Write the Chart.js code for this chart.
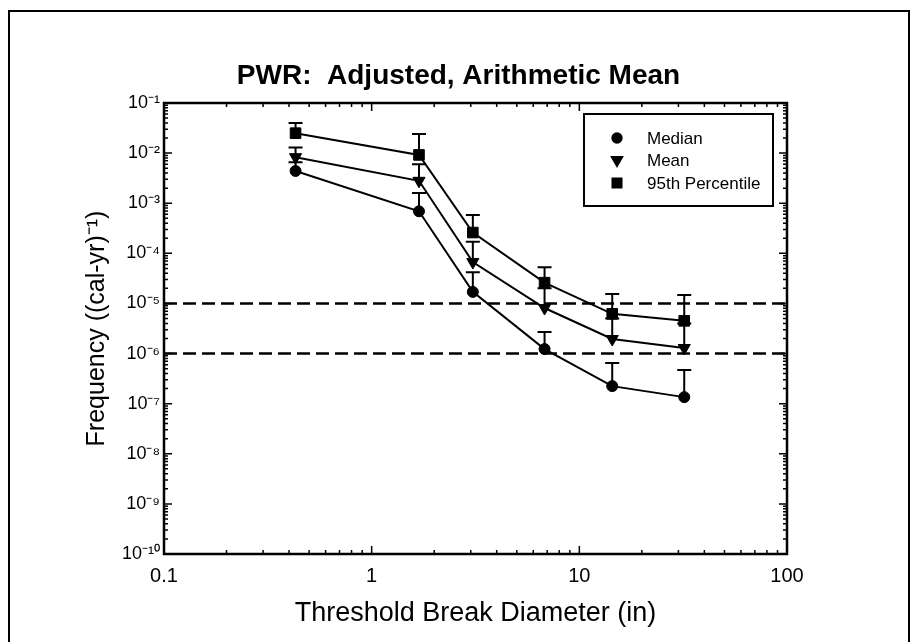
<!DOCTYPE html>
<html>
<head>
<meta charset="utf-8">
<script src="https://cdn.jsdelivr.net/npm/chart.js@4.4.1/dist/chart.umd.min.js"></script>
<style>
  body { margin: 0; background: #fff; }
  #wrap { position: relative; width: 917px; height: 642px; }
  #frame { position: absolute; left: 8px; top: 10px; width: 898px; height: 700px; border: 2px solid #000; }
  canvas { position: absolute; left: 0; top: 0; }
</style>
</head>
<body>
<div id="wrap">
  <div id="frame"></div>
  <canvas id="myChart" width="917" height="642"></canvas>
</div>
<script>
// Datos
const diametros = [0.43, 1.69, 3.07, 6.8, 14.4, 32];

const mediana = [4.4e-3, 6.9e-4, 1.7e-5, 1.23e-6, 2.24e-7, 1.35e-7];
const medianaSup = [6.6e-3, 1.6e-3, 4.2e-5, 2.7e-6, 6.5e-7, 4.7e-7];

const media = [8.3e-3, 2.8e-3, 6.7e-5, 8.1e-6, 1.95e-6, 1.29e-6];
const mediaSup = [1.3e-2, 6e-3, 1.7e-4, 2e-5, 5e-6, 4e-6];

const percentil95 = [2.5e-2, 9.2e-3, 2.6e-4, 2.6e-5, 6.2e-6, 4.5e-6];
const percentil95Sup = [4e-2, 2.4e-2, 5.8e-4, 5.3e-5, 1.55e-5, 1.47e-5];

const lineasLimite = [1e-5, 1e-6];
const xMin = 0.1, xMax = 100;
const yMin = 1e-10, yMax = 1e-1;

const titulo = 'PWR:  Adjusted, Arithmetic Mean';
const tituloX = 'Threshold Break Diameter (in)';
const tituloY = 'Frequency ((cal-yr)\u207B\u00B9)';

function puntos(vals) {
  return vals.map((v, i) => ({ x: diametros[i], y: v }));
}

const sup = { '-': '\u207B', '0': '\u2070', '1': '\u00B9', '2': '\u00B2', '3': '\u00B3',
  '4': '\u2074', '5': '\u2075', '6': '\u2076', '7': '\u2077', '8': '\u2078', '9': '\u2079' };

function esPotencia(v) {
  const l = Math.log10(v);
  return Math.abs(l - Math.round(l)) < 1e-9;
}

const series = [
  { label: 'Median', data: mediana, hi: medianaSup, style: 'circle', radius: 5.5, rot: 0 },
  { label: 'Mean', data: media, hi: mediaSup, style: 'triangle', radius: 7, rot: 180 },
  { label: '95th Percentile', data: percentil95, hi: percentil95Sup, style: 'rect', radius: 7.5, rot: 0 }
];

let datasets = [];
lineasLimite.forEach(v => {
  datasets.push({
    label: 'limite',
    data: [{ x: xMin, y: v }, { x: xMax, y: v }],
    borderColor: '#000',
    borderWidth: 2.5,
    borderDash: [13, 6],
    pointRadius: 0,
    order: 5
  });
});
series.forEach(s => {
  datasets.push({
    label: s.label,
    data: puntos(s.data),
    hi: s.hi,
    borderColor: '#000',
    backgroundColor: '#000',
    borderWidth: 2,
    pointStyle: s.style,
    pointRadius: s.radius,
    pointRotation: s.rot,
    pointBorderWidth: 1,
    order: 1
  });
});

// Barras de error (solo hacia arriba)
const errorBars = {
  id: 'errorBars',
  beforeDatasetsDraw(chart) {
    const c = chart.ctx, xs = chart.scales.x, ys = chart.scales.y;
    c.save();
    c.strokeStyle = '#000';
    c.lineWidth = 2;
    chart.data.datasets.forEach(ds => {
      if (!ds.hi) return;
      ds.data.forEach((p, i) => {
        const px = xs.getPixelForValue(p.x);
        const y0 = ys.getPixelForValue(p.y);
        const y1 = ys.getPixelForValue(ds.hi[i]);
        c.beginPath();
        c.moveTo(px, y0);
        c.lineTo(px, y1);
        c.moveTo(px - 7, y1);
        c.lineTo(px + 7, y1);
        c.stroke();
      });
    });
    c.restore();
  }
};

// Caja, marcas interiores, textos y leyenda
const marco = {
  id: 'marco',
  afterDraw(chart) {
    const c = chart.ctx, a = chart.chartArea;
    const xs = chart.scales.x, ys = chart.scales.y;
    c.save();
    c.strokeStyle = '#000';
    c.lineWidth = 1.5;
    c.beginPath();
    for (let d = -1; d < 2; d++) {
      for (let m = 1; m <= 9; m++) {
        const v = m * Math.pow(10, d);
        const px = xs.getPixelForValue(v);
        const len = m === 1 ? 8 : 4;
        c.moveTo(px, a.bottom); c.lineTo(px, a.bottom - len);
        c.moveTo(px, a.top); c.lineTo(px, a.top + len);
      }
    }
    for (let d = -10; d < -1; d++) {
      for (let m = 1; m <= 9; m++) {
        const v = m * Math.pow(10, d);
        const py = ys.getPixelForValue(v);
        const len = m === 1 ? 8 : 4;
        c.moveTo(a.left, py); c.lineTo(a.left + len, py);
        c.moveTo(a.right, py); c.lineTo(a.right - len, py);
      }
    }
    c.stroke();
    c.lineWidth = 2.5;
    c.strokeRect(a.left, a.top, a.right - a.left, a.bottom - a.top);

    const cx = (a.left + a.right) / 2;
    c.fillStyle = '#000';
    c.textAlign = 'center';
    c.textBaseline = 'alphabetic';
    c.font = 'bold 28px "Liberation Sans", Arial, sans-serif';
    c.fillText(titulo, chart.width / 2, 84);
    c.textBaseline = 'middle';
    c.font = '27px "Liberation Sans", Arial, sans-serif';
    c.fillText(tituloX, cx, 614);
    c.save();
    c.translate(97, (a.top + a.bottom) / 2);
    c.rotate(-Math.PI / 2);
    c.font = '25px "Liberation Sans", Arial, sans-serif';
    c.fillText(tituloY, 0, 0);
    c.restore();

    // leyenda
    c.lineWidth = 2;
    c.strokeRect(584, 114, 189, 92);
    c.textAlign = 'left';
    c.font = '17px "Liberation Sans", Arial, sans-serif';
    const filas = [138, 160, 183];
    series.forEach((s, i) => {
      Chart.helpers.drawPoint(c, { pointStyle: s.style, radius: s.radius * 0.85, rotation: s.rot, borderWidth: 1 }, 617, filas[i]);
      c.fill();
      c.fillText(s.label, 647, filas[i] + 1);
    });
    c.restore();
  }
};

const ctx = document.getElementById('myChart');

let graphData = {
  type: 'line',
  data: { datasets: datasets },
  options: {
    responsive: false,
    animation: false,
    layout: { padding: { top: 103, right: 130, left: 0, bottom: 0 } },
    plugins: { legend: { display: false }, tooltip: { enabled: false }, title: { display: false } },
    scales: {
      x: {
        type: 'logarithmic',
        min: xMin,
        max: xMax,
        grid: { display: false, drawTicks: false },
        border: { display: false },
        ticks: {
          autoSkip: false,
          maxRotation: 0,
          padding: 10,
          color: '#000',
          font: { size: 20, family: '"Liberation Sans", Arial, sans-serif' },
          callback: v => esPotencia(v) ? String(v) : ''
        },
        afterFit: s => { s.height = 88; }
      },
      y: {
        type: 'logarithmic',
        min: yMin,
        max: yMax,
        grid: { display: false, drawTicks: false },
        border: { display: false },
        ticks: {
          autoSkip: false,
          padding: 4,
          color: '#000',
          font: { size: 18, family: '"Liberation Sans", Arial, sans-serif' },
          callback: v => {
            if (!esPotencia(v)) return '';
            const e = String(Math.round(Math.log10(v)));
            return '10' + e.split('').map(ch => sup[ch]).join('');
          }
        },
        afterFit: s => { s.width = 164; }
      }
    }
  },
  plugins: [errorBars, marco]
};

let myChart = new Chart(ctx, graphData);
</script>
</body>
</html>
